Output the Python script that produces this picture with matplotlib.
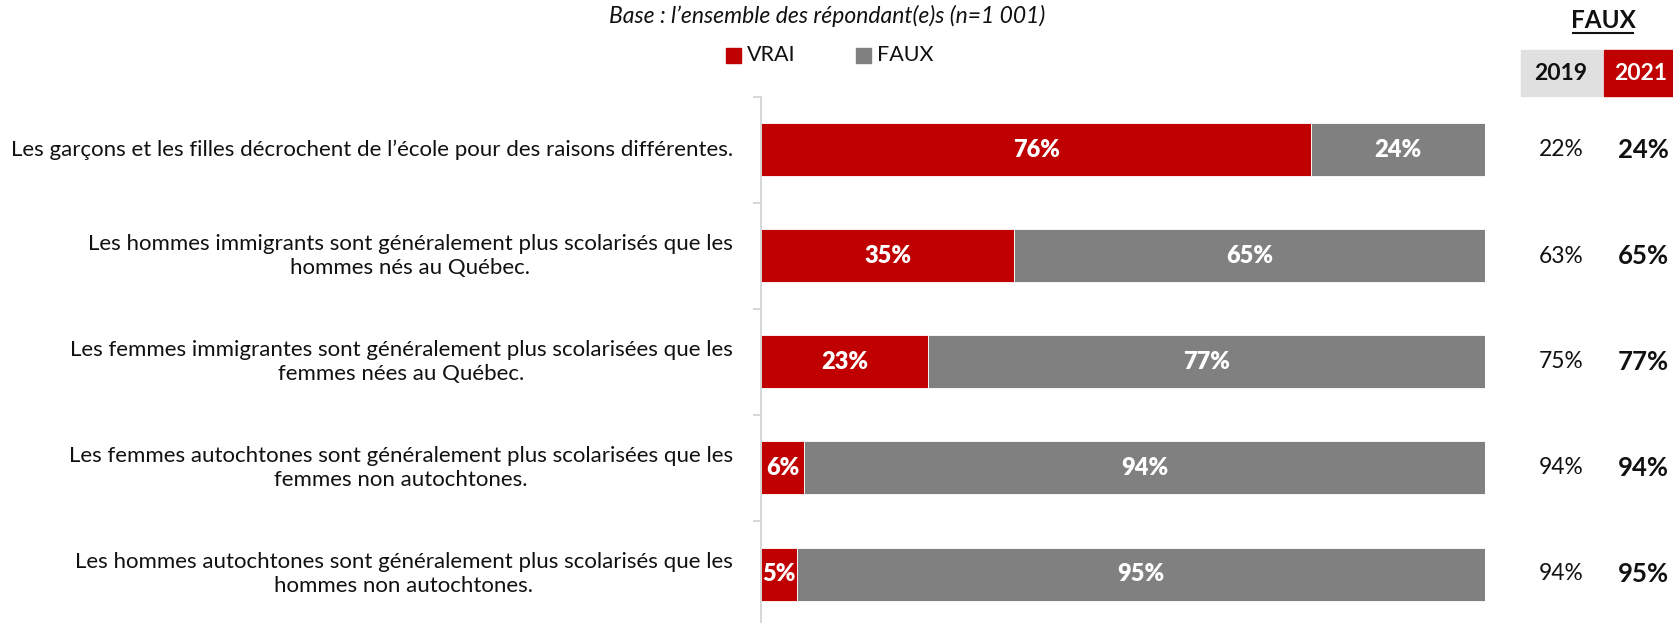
import matplotlib.pyplot as plt
from matplotlib.patches import Rectangle

plt.rcParams['font.family'] = ['Lato', 'DejaVu Sans']

categories = [
    "Les garçons et les filles décrochent de l\u2019école pour des raisons différentes.",
    "Les hommes immigrants sont généralement plus scolarisés que les\nhommes nés au Québec.",
    "Les femmes immigrantes sont généralement plus scolarisées que les\nfemmes nées au Québec.",
    "Les femmes autochtones sont généralement plus scolarisées que les\nfemmes non autochtones.",
    "Les hommes autochtones sont généralement plus scolarisés que les\nhommes non autochtones.",
]
vrai = [76, 35, 23, 6, 5]
faux = [24, 65, 77, 94, 95]
faux_2019 = [22, 63, 75, 94, 94]
faux_2021 = [24, 65, 77, 94, 95]

RED = "#C00000"
GREY = "#808080"
INK = "#111111"

W, H = 1673, 623
fig = plt.figure(figsize=(W / 100, H / 100), dpi=100)

# axes placed in pixel terms: x 761..1485, rows of 106 px starting at y=97
x0, x1 = 761, 1485
y_top = 97
pitch = 106
ax_h = pitch * len(categories)
ax = fig.add_axes([x0 / W, 1 - (y_top + ax_h) / H, (x1 - x0) / W, ax_h / H])

y = list(range(len(categories)))
ax.barh(y, vrai, height=0.5, color=RED, edgecolor="white", linewidth=0.6)
ax.barh(y, faux, left=vrai, height=0.5, color=GREY, edgecolor="white", linewidth=0.6)

for i, (v, f) in enumerate(zip(vrai, faux)):
    ax.text(v / 2, i, f"{v}%", ha="center", va="center", color="white",
            fontsize=17, fontweight="heavy")
    ax.text(v + f / 2, i, f"{f}%", ha="center", va="center", color="white",
            fontsize=17, fontweight="heavy")

ax.set_xlim(0, 100)
ax.set_ylim(len(categories) - 0.5, -0.5)
ax.set_yticks([i - 0.5 for i in range(len(categories) + 1)])
ax.set_yticklabels([])
ax.tick_params(axis="y", length=6, color="#D0D0D0", width=1.2)
ax.set_xticks([])
for s in ["top", "right", "bottom"]:
    ax.spines[s].set_visible(False)
ax.spines["left"].set_color("#D0D0D0")
ax.spines["left"].set_linewidth(1.2)

for i, lab in enumerate(categories):
    ax.text(-0.039, i, lab, transform=ax.get_yaxis_transform(), ha="right",
            va="center", multialignment="center", fontsize=16,
            color=INK, linespacing=1.3)

# title and legend
fig.text(827 / W, 1 - 16 / H, "Base : l\u2019ensemble des répondant(e)s (n=1 001)",
         ha="center", va="center", fontsize=16.5, style="italic", color=INK)
leg_items = [("VRAI", RED, 726), ("FAUX", GREY, 856)]
for name, col, px in leg_items:
    fig.patches.append(Rectangle((px / W, 1 - 63 / H), 15 / W, 15 / H,
                                 transform=fig.transFigure, color=col))
    fig.text((px + 21) / W, 1 - 55 / H, name, ha="left", va="center",
             fontsize=15.5, color=INK)

# right-hand comparison table
fig.text(1603 / W, 1 - 21 / H, "FAUX", ha="center", va="center",
         fontsize=17.5, fontweight="bold", color=INK)
fig.add_artist(plt.Line2D([1573 / W, 1633 / W], [1 - 33 / H, 1 - 33 / H],
                          transform=fig.transFigure, color=INK, lw=1.5))
fig.patches.append(Rectangle((1521 / W, 1 - 96 / H), 81 / W, 46 / H,
                             transform=fig.transFigure, color="#E0E0E0"))
fig.patches.append(Rectangle((1604 / W, 1 - 96 / H), 69 / W, 46 / H,
                             transform=fig.transFigure, color=RED))
fig.text(1561 / W, 1 - 73 / H, "2019", ha="center", va="center",
         fontsize=16.5, fontweight="bold", color=INK)
fig.text(1641 / W, 1 - 73 / H, "2021", ha="center", va="center",
         fontsize=16.5, fontweight="bold", color="white")

for i, (a, b) in enumerate(zip(faux_2019, faux_2021)):
    yy = 1 - (y_top + pitch * i + pitch / 2) / H
    fig.text(1561 / W, yy, f"{a}%", ha="center", va="center",
             fontsize=16.4, color=INK)
    fig.text(1643 / W, yy, f"{b}%", ha="center", va="center",
             fontsize=18.5, fontweight="bold", color=INK)

fig.savefig("out.png", dpi=100)
